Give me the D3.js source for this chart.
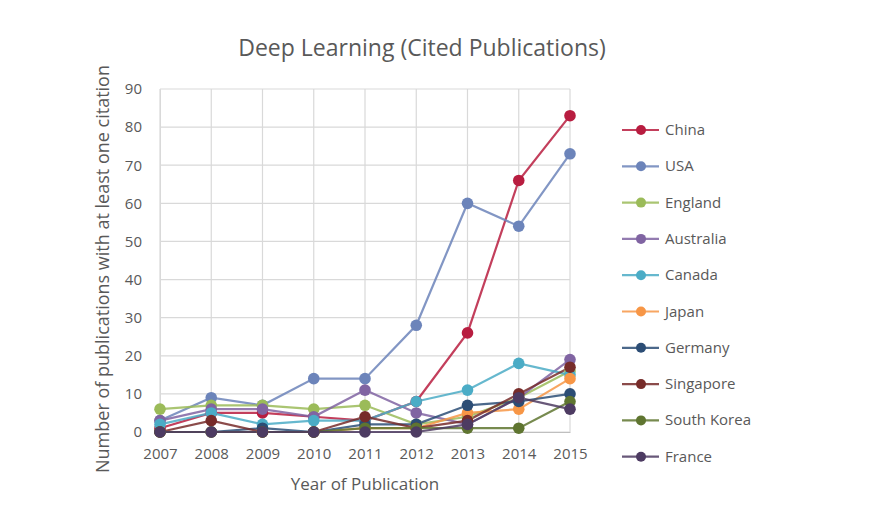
<!DOCTYPE html>
<html><head><meta charset="utf-8">
<script src="https://cdn.jsdelivr.net/npm/d3@7/dist/d3.min.js"></script>
<style>body{margin:0;background:#fff}svg{display:block}text{font-family:"Open Sans",sans-serif;fill:#595959}</style>
</head><body><svg id="c" width="877" height="511"></svg>
<script>
const years = [2007, 2008, 2009, 2010, 2011, 2012, 2013, 2014, 2015];
const yTicks = [0, 10, 20, 30, 40, 50, 60, 70, 80, 90];
const countries = ["China","USA","England","Australia","Canada","Japan","Germany","Singapore","South Korea","France"];
const colors = ["#B81D40","#6C84BA","#9BBB59","#8064A2","#4BACC6","#F79646","#2C4D75","#772C2A","#5F7530","#4D3B62"];
const china      = [1, 5, 5, 4, 3, 8, 26, 66, 83];
const usa        = [3, 9, 7, 14, 14, 28, 60, 54, 73];
const england    = [6, 7, 7, 6, 7, 2, 4, 9, 16];
const australia  = [3, 6, 6, 4, 11, 5, 2, 9, 19];
const canada     = [2, 5, 2, 3, 3, 8, 11, 18, 15];
const japan      = [0, 0, 0, 0, 1, 1, 5, 6, 14];
const germany    = [0, 0, 1, 0, 2, 2, 7, 8, 10];
const singapore  = [0, 3, 0, 0, 4, 1, 3, 10, 17];
const southKorea = [0, 0, 0, 0, 1, 1, 1, 1, 8];
const france     = [0, 0, 0, 0, 0, 0, 2, 9, 6];
const seriesVals = [china, usa, england, australia, canada, japan, germany, singapore, southKorea, france];

const svg = d3.select("#c");
const L = 160, R = 570, T = 89, B = 432;
const x = d3.scaleLinear().domain([2007, 2015]).range([L, R]);
const y = d3.scaleLinear().domain([0, 90]).range([B, T]);

// grid
svg.append("g").selectAll("line.h").data(yTicks).join("line")
  .attr("x1", L).attr("x2", R).attr("y1", d => y(d)).attr("y2", d => y(d))
  .attr("stroke", "#D9D9D9").attr("stroke-width", 1.2);
svg.append("g").selectAll("line.v").data(years).join("line")
  .attr("x1", d => x(d)).attr("x2", d => x(d)).attr("y1", T).attr("y2", B)
  .attr("stroke", "#D9D9D9").attr("stroke-width", 1.2);

// axes
const xa = svg.append("g").attr("transform", `translate(0,${B})`)
  .call(d3.axisBottom(x).tickValues(years).tickFormat(d3.format("d")).tickSize(0).tickPadding(16));
xa.select(".domain").attr("stroke", "#BFBFBF");
xa.selectAll("text").style("font-size", "15px").style("fill", "#595959");
const ya = svg.append("g").attr("transform", `translate(${L},0)`)
  .call(d3.axisLeft(y).tickValues(yTicks).tickSize(0).tickPadding(18));
ya.select(".domain").attr("stroke", "#D9D9D9");
ya.selectAll("text").style("font-size", "15px").style("fill", "#595959");

// lines
const line = d3.line().x((d, i) => x(years[i])).y(d => y(d));
seriesVals.forEach((vals, k) => {
  svg.append("path").datum(vals).attr("d", line).attr("fill", "none")
    .attr("stroke", colors[k]).attr("stroke-width", 2.2).attr("stroke-opacity", 0.85);
});
seriesVals.forEach((vals, k) => {
  svg.append("g").selectAll("circle").data(vals).join("circle")
    .attr("cx", (d, i) => x(years[i])).attr("cy", d => y(d)).attr("r", 5.8)
    .attr("fill", colors[k]);
});

// title & labels
svg.append("text").attr("x", 422).attr("y", 56).attr("text-anchor", "middle")
  .style("font-size", "23px").text("Deep Learning (Cited Publications)");
svg.append("text").attr("x", 365).attr("y", 490).attr("text-anchor", "middle")
  .style("font-size", "17px").text("Year of Publication");
svg.append("text").attr("transform", "translate(109,269) rotate(-90)").attr("text-anchor", "middle")
  .style("font-size", "18px").text("Number of publications with at least one citation");

// legend
const lg = svg.append("g");
countries.forEach((c, k) => {
  const yy = 130 + k * 36.3;
  lg.append("line").attr("x1", 622).attr("x2", 659).attr("y1", yy).attr("y2", yy)
    .attr("stroke", colors[k]).attr("stroke-width", 2.2).attr("stroke-opacity", 0.85);
  lg.append("circle").attr("cx", 641).attr("cy", yy).attr("r", 5).attr("fill", colors[k]);
  lg.append("text").attr("x", 665).attr("y", yy + 5).style("font-size", "15px").text(c);
});
</script></body></html>
